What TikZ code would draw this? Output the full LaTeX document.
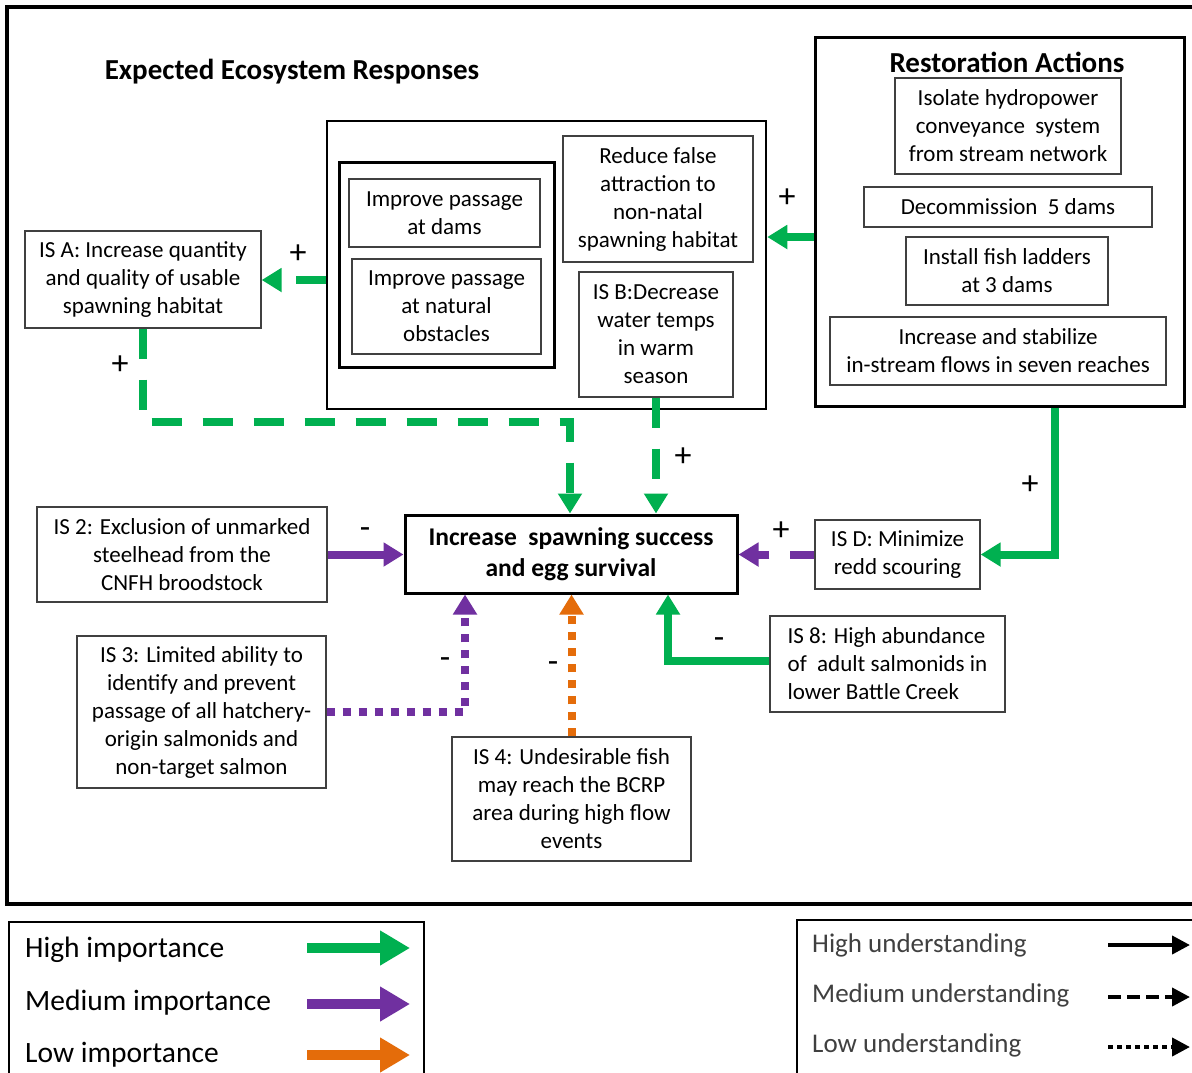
\documentclass[tikz,border=0pt]{standalone}
\usepackage{fontspec}
\setmainfont{Carlito}
\usetikzlibrary{arrows.meta}
\definecolor{hiGreen}{HTML}{00B050}
\definecolor{medPurple}{HTML}{7030A0}
\definecolor{lowOrange}{HTML}{E46C0A}
\definecolor{boxGray}{HTML}{404040}
\tikzset{
  box/.style={draw=boxGray, line width=1.3pt, align=center, inner sep=0pt,
    font=\fontsize{23}{28}\selectfont},
  frame/.style={draw=black, line width=3pt, inner sep=0pt},
  title/.style={font=\fontsize{29}{34}\selectfont\bfseries},
  sign/.style={font=\fontsize{34}{36}\selectfont, inner sep=0pt},
  link/.style={line width=8pt, -{Triangle[width=23pt,length=20pt]}},
  hi/.style={link, draw=hiGreen},
  med/.style={link, draw=medPurple},
  low/.style={link, draw=lowOrange},
  meddash/.style={dash pattern=on 30pt off 21pt},
  lowdot/.style={dash pattern=on 8pt off 8pt},
  legtext/.style={anchor=west, inner sep=0pt, font=\fontsize{29.5}{34}\selectfont},
  undtext/.style={anchor=west, inner sep=0pt, text=boxGray, font=\fontsize{27}{32}\selectfont},
  legbig/.style={line width=10pt, -{Triangle[width=33pt,length=30pt]}},
  legsmall/.style={line width=4pt, draw=black, -{Triangle[width=18pt,length=18pt]}},
}
\begin{document}
\begin{tikzpicture}[x=1pt, y=-1pt]
\useasboundingbox (0,0) rectangle (1192,1072);
\clip (0,0) rectangle (1192,1072);
\fill[white] (0,0) rectangle (1192,1072);

% outer frame of the model
\draw[line width=3.5pt] (7,7) rectangle (1200,904);

% titles
\node[title] (ttlE) at (292,72) {Expected Ecosystem Responses};

% restoration actions
\node[frame, minimum width=369pt, minimum height=369pt] (ra) at (999.5,221.5) {};
\node[title] (ttlR) at (1007,62) {Restoration Actions};
\node[box, minimum width=226pt, minimum height=96pt] (isolate) at (1008,126)
  {Isolate hydropower\\conveyance~ system\\from stream network};
\node[box, minimum width=288pt, minimum height=40pt] (decom) at (1008,207)
  {Decommission~ 5 dams};
\node[box, minimum width=202pt, minimum height=68pt] (ladders) at (1007,271)
  {Install fish ladders\\at 3 dams};
\node[box, minimum width=336pt, minimum height=68pt] (flows) at (998,351)
  {Increase and stabilize\\in-stream flows in seven reaches};

% passage / habitat group
\node[frame, line width=2.5pt, minimum width=439pt, minimum height=288pt] (mid) at (546.5,265) {};
\node[frame, minimum width=215pt, minimum height=205pt] (pass) at (446.5,264.5) {};
\node[box, minimum width=191pt, minimum height=68pt] (dams) at (444.5,213)
  {Improve passage\\at dams};
\node[box, minimum width=189pt, minimum height=95pt] (natobs) at (446.5,306.5)
  {Improve passage\\at natural\\obstacles};
\node[box, minimum width=190pt, minimum height=126pt] (false) at (658,199)
  {Reduce false\\attraction to\\non-natal\\spawning habitat};
\node[box, minimum width=154pt, minimum height=125pt] (isb) at (656,334.5)
  {IS B:Decrease\\water temps\\in warm\\season};

% responses
\node[box, minimum width=236pt, minimum height=97pt] (isa) at (143,279.5)
  {IS A: Increase quantity\\and quality of usable\\spawning habitat};
\node[frame, minimum width=332pt, minimum height=78pt, align=center,
  font=\fontsize{25.5}{31}\selectfont\bfseries] (central) at (571,554)
  {Increase~ spawning success\\and egg survival};
\node[box, minimum width=290pt, minimum height=95pt] (is2) at (182,554.5)
  {IS 2: Exclusion of unmarked\\steelhead from the\\CNFH broodstock};
\node[box, minimum width=249pt, minimum height=152pt] (is3) at (201.5,712)
  {IS 3: Limited ability to\\identify and prevent\\passage of all hatchery-\\origin salmonids and\\non-target salmon};
\node[box, minimum width=239pt, minimum height=124pt] (is4) at (571.5,799)
  {IS 4: Undesirable fish\\may reach the BCRP\\area during high flow\\events};
\node[box, minimum width=235pt, minimum height=96pt, align=left] (is8) at (887.5,664)
  {IS 8: High abundance\\of~ adult salmonids in\\lower Battle Creek};
\node[box, minimum width=165pt, minimum height=69pt] (isd) at (897.5,554.5)
  {IS D: Minimize\\redd scouring};

% connectors
\draw[hi] (ra.west |- 0,237) -- (mid.east |- 0,237);
\draw[hi, meddash] (mid.west |- 0,280) -- (isa.east |- 0,280);
\draw[hi, meddash] (isa.south) |- (570,422) -- (central.north -| 570,0);
\draw[hi, meddash] (isb.south) -- (central.north -| isb.south);
\draw[hi] (ra.south -| 1055,0) |- (isd.east);
\draw[med, meddash, dash phase=6pt] (isd.west) -- (central.east |- isd.west);
\draw[med] (is2.east) -- (central.west |- is2.east);
\draw[med, lowdot] (is3.east) -| (central.south -| 465,0);
\draw[low, lowdot] (is4.north) -- (central.south -| is4.north);
\draw[hi] (is8.west |- 0,661) -| (central.south -| 668,0);

% signs on the links
\node[sign] (s1) at (787,198) {+};
\node[sign] (s2) at (298,254) {+};
\node[sign] (s3) at (120,365) {+};
\node[sign] (s4) at (683,457) {+};
\node[sign] (s5) at (1030,485) {+};
\node[sign] (s6) at (781,531) {+};
\node[sign] (s7) at (365,533) {-};
\node[sign] (s8) at (445,663) {-};
\node[sign] (s9) at (553,667) {-};
\node[sign] (s10) at (719,643) {-};

% importance legend
\draw[line width=2pt] (9,922) rectangle (424,1090);
\node[legtext] (lg1) at (25,950) {High importance};
\node[legtext] (lg2) at (25,1003) {Medium importance};
\node[legtext] (lg3) at (25,1055) {Low importance};
\coordinate (la1) at (307,948);
\coordinate (lb1) at (410,948);
\coordinate (la2) at (307,1004);
\coordinate (lb2) at (410,1004);
\coordinate (la3) at (307,1055);
\coordinate (lb3) at (410,1055);
\draw[legbig, draw=hiGreen] (la1) -- (lb1);
\draw[legbig, draw=medPurple] (la2) -- (lb2);
\draw[legbig, draw=lowOrange] (la3) -- (lb3);

% understanding legend
\draw[line width=2pt] (797,920) rectangle (1210,1090);
\node[undtext] (lu1) at (812,945) {High understanding};
\node[undtext] (lu2) at (812,995) {Medium understanding};
\node[undtext] (lu3) at (812,1045) {Low understanding};
\coordinate (ua1) at (1108,945);
\coordinate (ub1) at (1190,945);
\coordinate (ua2) at (1108,997);
\coordinate (ub2) at (1190,997);
\coordinate (ua3) at (1108,1047);
\coordinate (ub3) at (1190,1047);
\draw[legsmall] (ua1) -- (ub1);
\draw[legsmall, dash pattern=on 13pt off 6pt] (ua2) -- (ub2);
\draw[legsmall, dash pattern=on 5pt off 4pt] (ua3) -- (ub3);
\end{tikzpicture}
\end{document}
